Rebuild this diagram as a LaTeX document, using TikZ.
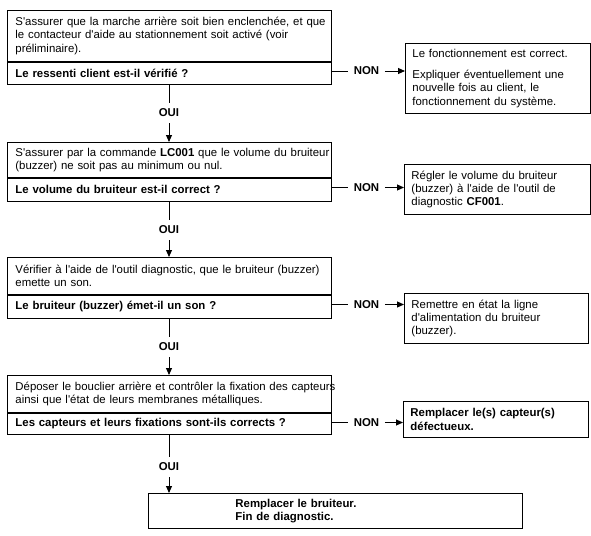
\documentclass[tikz,border=0pt]{standalone}
\usepackage{fontspec}
\setmainfont{Liberation Sans}[Ligatures=TeXOff]
\usetikzlibrary{arrows.meta}
\newcommand\oneline[1]{\mbox{#1}}
\begin{document}
\begin{tikzpicture}[x=1pt,y=-1pt,
  every node/.style={font=\fontsize{11.4}{13.2}\selectfont},
  box/.style={draw, line width=0.9pt, anchor=north west, inner ysep=0pt, align=left},
  mainbox/.style={box, text width=308pt, inner xsep=8pt, minimum height=#1},
  sidebox/.style={box, inner xsep=7pt},
  lbl/.style={font=\fontsize{11.4}{13.2}\selectfont\bfseries, inner xsep=5.5pt, inner ysep=6pt},
  conn/.style={line width=0.9pt},
  arr/.style={line width=0.9pt, -{Triangle[length=7pt,width=6pt]}}
]
\useasboundingbox (0,0) rectangle (591,535);

% main column
\node[mainbox=51pt] (t1) at (7,10) {\oneline{S'assurer que la marche arrière soit bien enclenchée, et que}\\\oneline{le contacteur d'aide au stationnement soit activé (voir}\\\oneline{préliminaire).}};
\node[mainbox=22pt] (q1) at (t1.south west) {\oneline{\textbf{Le ressenti client est-il vérifié ?}}};

\node[mainbox=35pt] (t2) at (7,142) {\oneline{S'assurer par la commande \textbf{LC001} que le volume du bruiteur}\\\oneline{(buzzer) ne soit pas au minimum ou nul.}};
\node[mainbox=23pt] (q2) at (t2.south west) {\oneline{\textbf{Le volume du bruiteur est-il correct ?}}};

\node[mainbox=37pt] (t3) at (7,257) {\oneline{Vérifier à l'aide de l'outil diagnostic, que le bruiteur (buzzer)}\\\oneline{emette un son.}};
\node[mainbox=23pt] (q3) at (t3.south west) {\oneline{\textbf{Le bruiteur (buzzer) émet-il un son ?}}};

\node[mainbox=37pt] (t4) at (7,375) {\oneline{Déposer le bouclier arrière et contrôler la fixation des capteurs}\\\oneline{ainsi que l'état de leurs membranes métalliques.}};
\node[mainbox=21pt] (q4) at (t4.south west) {\oneline{\textbf{Les capteurs et leurs fixations sont-ils corrects ?}}};

\node[box, text width=374pt, inner xsep=0pt, minimum height=35pt] (fin) at (148,493)
  {\bfseries\hspace*{87pt}Remplacer le bruiteur.\\\hspace*{87pt}Fin de diagnostic.};

% side boxes
\node[sidebox, text width=171pt, minimum height=70pt] (r1) at (405,43)
  {\oneline{Le fonctionnement est correct.}\\[8pt]\oneline{Expliquer éventuellement une}\\\oneline{nouvelle fois au client, le}\\\oneline{fonctionnement du système.}};
\node[sidebox, text width=172pt, minimum height=50pt] (r2) at (404,164)
  {\oneline{Régler le volume du bruiteur}\\\oneline{(buzzer) à l'aide de l'outil de}\\\oneline{diagnostic \textbf{CF001}.}};
\node[sidebox, text width=170pt, minimum height=50pt] (r3) at (404,293)
  {\oneline{Remettre en état la ligne}\\\oneline{d'alimentation du bruiteur}\\\oneline{(buzzer).}};
\node[sidebox, text width=171pt, minimum height=36pt] (r4) at (403,401)
  {\bfseries\oneline{Remplacer le(s) capteur(s)}\\\oneline{défectueux.}};

% OUI labels and vertical connectors
\node[lbl] (o1) at (169,113) {OUI};
\node[lbl] (o2) at (169,230) {OUI};
\node[lbl] (o3) at (169,347) {OUI};
\node[lbl] (o4) at (169,467) {OUI};
\draw[conn] (q1.south -| o1) -- (o1.north);
\draw[arr] (o1.south) -- (o1 |- t2.north);
\draw[conn] (q2.south -| o2) -- (o2.north);
\draw[arr] (o2.south) -- (o2 |- t3.north);
\draw[conn] (q3.south -| o3) -- (o3.north);
\draw[arr] (o3.south) -- (o3 |- t4.north);
\draw[conn] (q4.south -| o4) -- (o4.north);
\draw[arr] (o4.south) -- (o4 |- fin.north);

% NON labels and horizontal connectors
\node[lbl] (n1) at (366.5,71) {NON};
\node[lbl] (n2) at (366.5,187.5) {NON};
\node[lbl] (n3) at (366.5,304.5) {NON};
\node[lbl] (n4) at (366.5,422.5) {NON};
\draw[conn] (q1.east |- n1) -- (n1.west);
\draw[arr] (n1.east) -- (n1 -| r1.west);
\draw[conn] (q2.east |- n2) -- (n2.west);
\draw[arr] (n2.east) -- (n2 -| r2.west);
\draw[conn] (q3.east |- n3) -- (n3.west);
\draw[arr] (n3.east) -- (n3 -| r3.west);
\draw[conn] (q4.east |- n4) -- (n4.west);
\draw[arr] (n4.east) -- (n4 -| r4.west);
\end{tikzpicture}
\end{document}
